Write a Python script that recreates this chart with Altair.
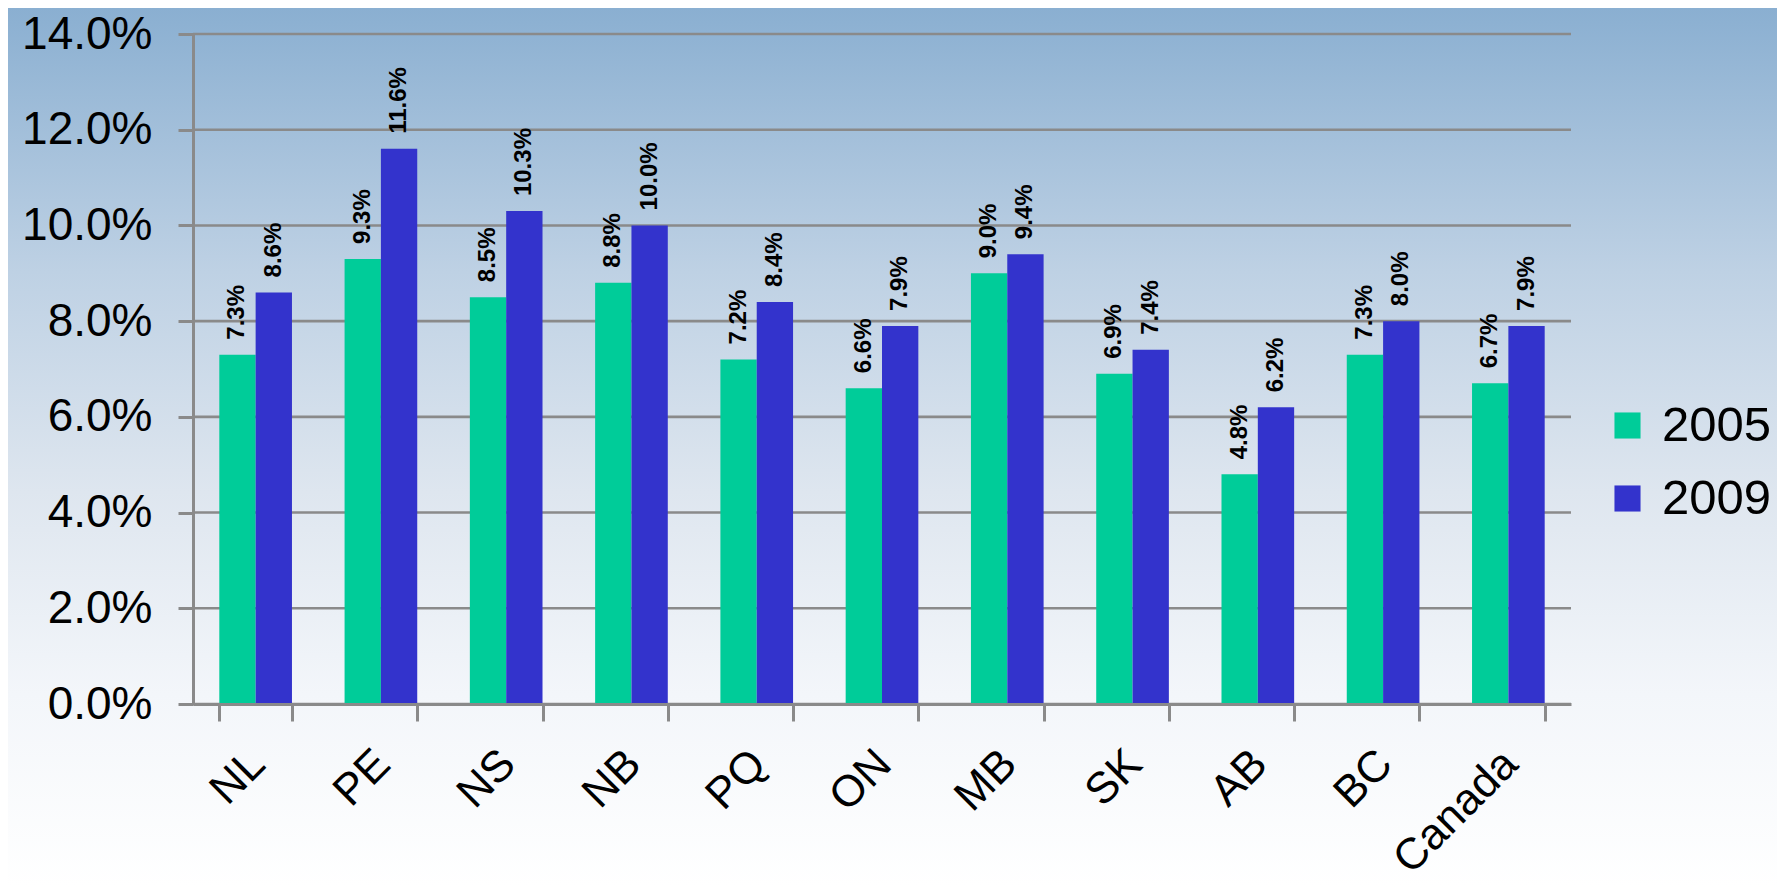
import altair as alt
import pandas as pd

regions = ["NL", "PE", "NS", "NB", "PQ", "ON", "MB", "SK", "AB", "BC", "Canada"]
years = ["2005", "2009"]
v2005 = [7.3, 9.3, 8.5, 8.8, 7.2, 6.6, 9.0, 6.9, 4.8, 7.3, 6.7]
v2009 = [8.6, 11.6, 10.3, 10.0, 8.4, 7.9, 9.4, 7.4, 6.2, 8.0, 7.9]
y_ticks = [0, 2, 4, 6, 8, 10, 12, 14]
colors = ["#00CC99", "#3333CC"]

rows = []
for r, a, b in zip(regions, v2005, v2009):
    rows.append({"region": r, "year": "2005", "value": a})
    rows.append({"region": r, "year": "2009", "value": b})
df = pd.DataFrame(rows)
df["label"] = df["value"].map(lambda v: f"{v:.1f}%")

W, H = 1378, 670
PAD_L, PAD_T, PAD_R, PAD_B = 185, 26, 206, 183
GRAY = "#8a8a8a"
FONT = "Liberation Sans"

bg = alt.Chart(alt.Data(values=[{}])).mark_rect(
    color=alt.Gradient(
        gradient="linear",
        stops=[
            alt.GradientStop(color="#8AAFD1", offset=0),
            alt.GradientStop(color="#BED1E4", offset=0.3),
            alt.GradientStop(color="#DEE6EF", offset=0.55),
            alt.GradientStop(color="#F3F6FA", offset=0.78),
            alt.GradientStop(color="#FFFFFF", offset=1),
        ],
        x1=0, x2=0, y1=0, y2=1,
    )
).encode(
    x=alt.value(-PAD_L), x2=alt.value(W + PAD_R),
    y=alt.value(-PAD_T), y2=alt.value(H + PAD_B),
)

yscale = alt.Scale(domain=[0, 14], nice=False)

grid = alt.Chart(pd.DataFrame({"t": y_ticks})).mark_rule(
    color=GRAY, strokeWidth=2.6
).encode(
    y=alt.Y("t:Q", scale=yscale),
    x=alt.value(0), x2=alt.value(W),
)

xenc = alt.X(
    "region:N", sort=regions,
    scale=alt.Scale(paddingInner=0.42, paddingOuter=0.21),
    axis=alt.Axis(
        title=None, labelAngle=315, labelAlign="right", labelBaseline="middle",
        labelFontSize=44, labelFont=FONT, labelColor="black", labelPadding=36,
        labelOffset=2, tickSize=17, tickWidth=3, tickColor=GRAY, tickBand="extent",
        domainColor=GRAY, domainWidth=3, zindex=1, labelOverlap=False,
    ),
)
xoff = alt.XOffset("year:N", sort=years, scale=alt.Scale(paddingInner=0, paddingOuter=0))
yenc = alt.Y(
    "value:Q", scale=yscale,
    axis=alt.Axis(
        title=None, values=y_ticks, labelExpr="format(datum.value, '.1f') + '%'",
        grid=False, labelFontSize=46, labelFont=FONT, labelColor="black",
        labelPadding=26, tickSize=15, tickWidth=3, tickColor=GRAY,
        domainColor=GRAY, domainWidth=3, zindex=1,
    ),
)

base = alt.Chart(df)

bars = base.mark_bar().encode(
    x=xenc, xOffset=xoff, y=yenc,
    color=alt.Color(
        "year:N", sort=years,
        scale=alt.Scale(domain=years, range=colors),
        legend=alt.Legend(
            title=None, orient="none", legendX=1410, legendY=367,
            symbolType="square", symbolSize=680, symbolStrokeWidth=0,
            labelFontSize=49, labelFont=FONT, labelColor="black",
            labelOffset=10, rowPadding=23, padding=0,
        ),
    ),
)

labels = base.mark_text(
    angle=270, align="left", baseline="middle", dx=15,
    fontSize=24, fontWeight="bold", font=FONT, color="black",
).encode(
    x=alt.X("region:N", sort=regions), xOffset=xoff,
    y=alt.Y("value:Q", scale=yscale), text="label:N",
)

chart = alt.layer(bg, grid, bars, labels).properties(
    width=W, height=H,
    autosize=alt.AutoSizeParams(type="none"),
    padding={"left": PAD_L, "top": PAD_T, "right": PAD_R, "bottom": PAD_B},
).configure_view(stroke=None).configure(background="white")

chart.save("out.html", embed_options={"renderer": "svg", "actions": False})
